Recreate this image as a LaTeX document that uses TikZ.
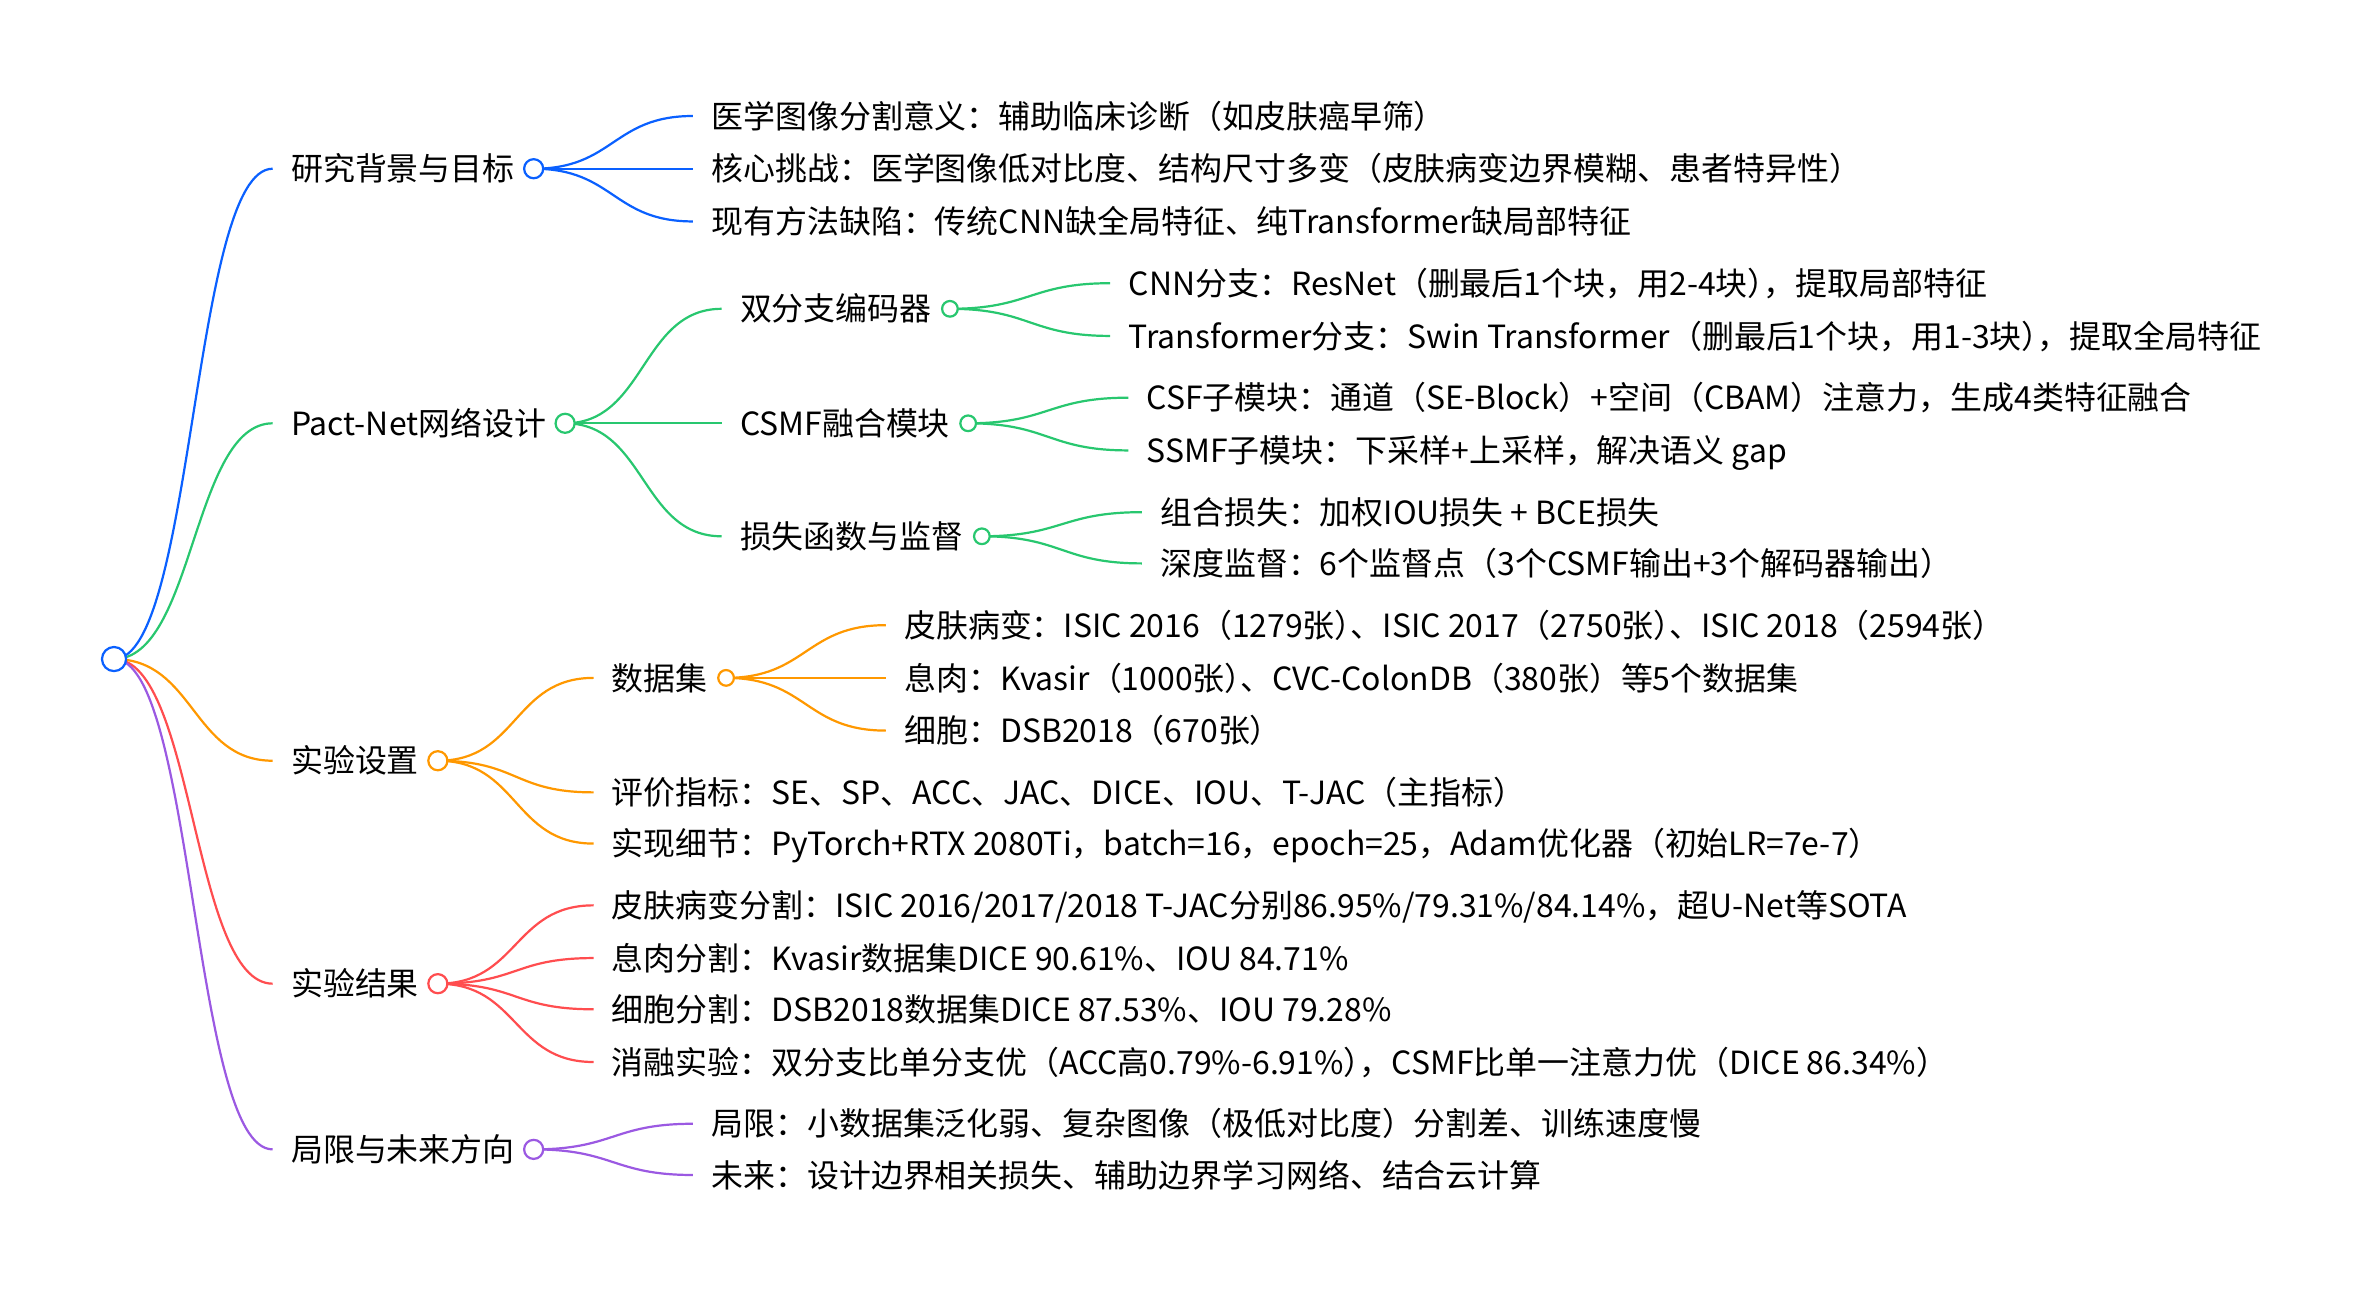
\documentclass[tikz,border=0pt]{standalone}
\usepackage{fontspec}
\setmainfont{Noto Sans CJK SC}
\newfontfamily\halfpunct[RawFeature=+halt]{Noto Sans CJK SC}
\newcommand\rp{{\halfpunct ）}}
\usetikzlibrary{positioning,backgrounds}
\definecolor{cBlue}{RGB}{10,96,255}
\definecolor{cGreen}{RGB}{40,199,111}
\definecolor{cOrange}{RGB}{255,152,0}
\definecolor{cRed}{RGB}{255,77,79}
\definecolor{cPurple}{RGB}{155,89,226}

\begin{document}
\begin{tikzpicture}[
    x=0.75pt, y=-0.75pt,
    every node/.style={font=\fontsize{15.9}{19}\selectfont},
    entry/.style={anchor=west, inner sep=0pt, text height=12.7pt, text depth=0.6pt},
    rootknob/.style={circle, draw=cBlue, fill=white, line width=1.1pt, inner sep=0pt, outer sep=0pt, minimum size=12pt},
    knobA/.style={circle, draw, fill=white, line width=1.1pt, inner sep=0pt, outer sep=0pt, minimum size=9.5pt},
    knobB/.style={circle, draw, fill=white, line width=1.1pt, inner sep=0pt, outer sep=0pt, minimum size=7.8pt},
    twig/.style={line width=1.1pt, to path={.. controls +(40pt,0) and +(-40pt,0) .. (\tikztotarget)}}
]
\useasboundingbox (0,0) rectangle (1568,858);
\node[rootknob] (root) at (75.7,437.5) {};

\node[entry] (bg) at (193,112) {研究背景与目标};
\node[knobA, draw=cBlue, right=4.5pt of bg] (bgk) {};
\node[entry] (bg1) at (472,77) {医学图像分割意义：辅助临床诊断（如皮肤癌早筛）};
\node[entry] (bg2) at (472,112) {核心挑战：医学图像低对比度、结构尺寸多变（皮肤病变边界模糊、患者特异性）};
\node[entry] (bg3) at (472,147) {现有方法缺陷：传统CNN缺全局特征、纯Transformer缺局部特征};

\node[entry] (net) at (193,281) {Pact-Net网络设计};
\node[knobA, draw=cGreen, right=4.5pt of net] (netk) {};
\node[entry] (enc) at (491,205) {双分支编码器};
\node[knobB, draw=cGreen, right=5pt of enc] (enck) {};
\node[entry] (enc1) at (749,188) {CNN分支：ResNet（删最后1个块，用2-4块\rp，提取局部特征};
\node[entry] (enc2) at (749,223) {Transformer分支：Swin Transformer（删最后1个块，用1-3块\rp，提取全局特征};
\node[entry] (fus) at (491,281) {CSMF融合模块};
\node[knobB, draw=cGreen, right=5pt of fus] (fusk) {};
\node[entry] (fus1) at (761,264) {CSF子模块：通道（SE-Block）+空间（CBAM）注意力，生成4类特征融合};
\node[entry] (fus2) at (761,299) {SSMF子模块：下采样+上采样，解决语义 gap};
\node[entry] (los) at (491,356) {损失函数与监督};
\node[knobB, draw=cGreen, right=5pt of los] (losk) {};
\node[entry] (los1) at (770,340) {组合损失：加权IOU损失 + BCE损失};
\node[entry] (los2) at (770,374) {深度监督：6个监督点（3个CSMF输出+3个解码器输出）};

\node[entry] (set) at (193,505) {实验设置};
\node[knobA, draw=cOrange, right=4.5pt of set] (setk) {};
\node[entry] (dat) at (406,450) {数据集};
\node[knobB, draw=cOrange, right=5pt of dat] (datk) {};
\node[entry] (dat1) at (600,415) {皮肤病变：ISIC 2016（1279张\rp、ISIC 2017（2750张\rp、ISIC 2018（2594张）};
\node[entry] (dat2) at (600,450) {息肉：Kvasir（1000张\rp、CVC-ColonDB（380张）等5个数据集};
\node[entry] (dat3) at (600,485) {细胞：DSB2018（670张）};
\node[entry] (set2) at (406,526) {评价指标：SE、SP、ACC、JAC、DICE、IOU、T-JAC（主指标）};
\node[entry] (set3) at (406,560) {实现细节：PyTorch+RTX 2080Ti，batch=16，epoch=25，Adam优化器（初始LR=7e-7）};

\node[entry] (res) at (193,653) {实验结果};
\node[knobA, draw=cRed, right=4.5pt of res] (resk) {};
\node[entry] (res1) at (406,601) {皮肤病变分割：ISIC 2016/2017/2018 T-JAC分别86.95\%/79.31\%/84.14\%，超U-Net等SOTA};
\node[entry] (res2) at (406,636) {息肉分割：Kvasir数据集DICE 90.61\%、IOU 84.71\%};
\node[entry] (res3) at (406,670) {细胞分割：DSB2018数据集DICE 87.53\%、IOU 79.28\%};
\node[entry] (res4) at (406,705) {消融实验：双分支比单分支优（ACC高0.79\%-6.91\%\rp，CSMF比单一注意力优（DICE 86.34\%）};

\node[entry] (lim) at (193,763) {局限与未来方向};
\node[knobA, draw=cPurple, right=4.5pt of lim] (limk) {};
\node[entry] (lim1) at (472,746) {局限：小数据集泛化弱、复杂图像（极低对比度）分割差、训练速度慢};
\node[entry] (lim2) at (472,780) {未来：设计边界相关损失、辅助边界学习网络、结合云计算};

\begin{scope}[on background layer]
\draw[twig, cBlue] (root.center) to ([xshift=-9pt]bg.west);
\draw[twig, cGreen] (root.center) to ([xshift=-9pt]net.west);
\draw[twig, cOrange] (root.center) to ([xshift=-9pt]set.west);
\draw[twig, cRed] (root.center) to ([xshift=-9pt]res.west);
\draw[twig, cPurple] (root.center) to ([xshift=-9pt]lim.west);
\draw[twig, cBlue] (bgk.center) to ([xshift=-9pt]bg1.west);
\draw[twig, cBlue] (bgk.center) to ([xshift=-9pt]bg2.west);
\draw[twig, cBlue] (bgk.center) to ([xshift=-9pt]bg3.west);
\draw[twig, cGreen] (netk.center) to ([xshift=-9pt]enc.west);
\draw[twig, cGreen] (netk.center) to ([xshift=-9pt]fus.west);
\draw[twig, cGreen] (netk.center) to ([xshift=-9pt]los.west);
\draw[twig, cGreen] (enck.center) to ([xshift=-9pt]enc1.west);
\draw[twig, cGreen] (enck.center) to ([xshift=-9pt]enc2.west);
\draw[twig, cGreen] (fusk.center) to ([xshift=-9pt]fus1.west);
\draw[twig, cGreen] (fusk.center) to ([xshift=-9pt]fus2.west);
\draw[twig, cGreen] (losk.center) to ([xshift=-9pt]los1.west);
\draw[twig, cGreen] (losk.center) to ([xshift=-9pt]los2.west);
\draw[twig, cOrange] (setk.center) to ([xshift=-9pt]dat.west);
\draw[twig, cOrange] (setk.center) to ([xshift=-9pt]set2.west);
\draw[twig, cOrange] (setk.center) to ([xshift=-9pt]set3.west);
\draw[twig, cOrange] (datk.center) to ([xshift=-9pt]dat1.west);
\draw[twig, cOrange] (datk.center) to ([xshift=-9pt]dat2.west);
\draw[twig, cOrange] (datk.center) to ([xshift=-9pt]dat3.west);
\draw[twig, cRed] (resk.center) to ([xshift=-9pt]res1.west);
\draw[twig, cRed] (resk.center) to ([xshift=-9pt]res2.west);
\draw[twig, cRed] (resk.center) to ([xshift=-9pt]res3.west);
\draw[twig, cRed] (resk.center) to ([xshift=-9pt]res4.west);
\draw[twig, cPurple] (limk.center) to ([xshift=-9pt]lim1.west);
\draw[twig, cPurple] (limk.center) to ([xshift=-9pt]lim2.west);
\end{scope}
\end{tikzpicture}
\end{document}
